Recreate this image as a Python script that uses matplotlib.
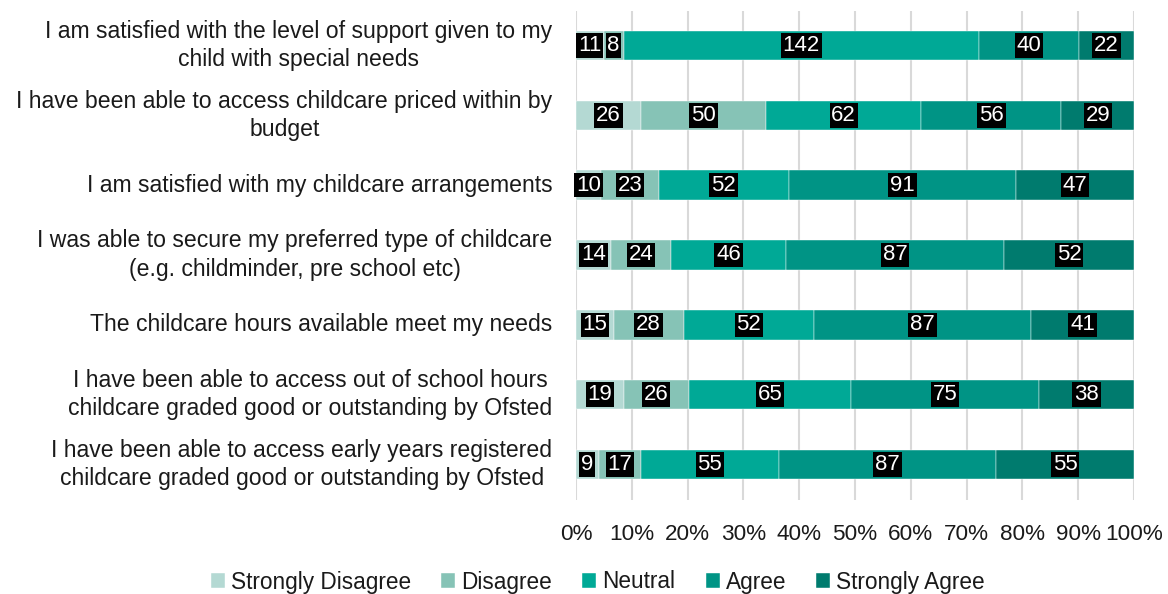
import matplotlib
matplotlib.use("Agg")
import matplotlib.pyplot as plt
import numpy as np

plt.rcParams['font.family'] = ['Liberation Sans', 'DejaVu Sans']

statements = [
    "I am satisfied with the level of support given to my\nchild with special needs",
    "I have been able to access childcare priced within by\nbudget",
    "I am satisfied with my childcare arrangements",
    "I was able to secure my preferred type of childcare\n(e.g. childminder, pre school etc)",
    "The childcare hours available meet my needs",
    "I have been able to access out of school hours\nchildcare graded good or outstanding by Ofsted",
    "I have been able to access early years registered\nchildcare graded good or outstanding by Ofsted",
]
responses = ["Strongly Disagree", "Disagree", "Neutral", "Agree", "Strongly Agree"]

strongly_disagree = [11, 26, 10, 14, 15, 19, 9]
disagree = [8, 50, 23, 24, 28, 26, 17]
neutral = [142, 62, 52, 46, 52, 65, 55]
agree = [40, 56, 91, 87, 87, 75, 87]
strongly_agree = [22, 29, 47, 52, 41, 38, 55]

colors = ['#b4d9d3', '#86c3b6', '#00a996', '#009485', '#007b6e']

counts = np.array([strongly_disagree, disagree, neutral, agree, strongly_agree], dtype=float)
totals = counts.sum(axis=0)
shares = counts / totals

fig = plt.figure(figsize=(11.68, 5.94), dpi=100)
ax = fig.add_axes([576 / 1168, 1 - 499.5 / 594, 558 / 1168, 489 / 594])

y = np.arange(len(statements))
left = np.zeros(len(statements))
for i, (name, col) in enumerate(zip(responses, colors)):
    ax.barh(y, shares[i], left=left, height=0.42, color=col,
            edgecolor='white', linewidth=0.3, label=name, zorder=2)
    for j in range(len(statements)):
        cx = left[j] + shares[i][j] / 2
        ax.text(cx, y[j], f"{int(counts[i][j])}", ha='center', va='center',
                color='white', fontsize=16, zorder=4,
                bbox=dict(boxstyle='square,pad=0.08', facecolor='black',
                          edgecolor='none'))
    left += shares[i]

ax.set_xlim(0, 1)
ax.set_ylim(len(statements) - 0.5, -0.5)
ax.set_xticks(np.linspace(0, 1, 11))
ax.set_xticklabels([f"{int(v)}%" for v in np.linspace(0, 100, 11)], fontsize=16.2,
                   color='#1a1a1a')
ax.set_yticks(y)
ax.set_yticklabels(statements, fontsize=16.6, multialignment='center',
                   color='#1a1a1a', linespacing=1.3, va='center')
ax.tick_params(axis='both', length=0)
ax.tick_params(axis='y', pad=17)
ax.tick_params(axis='x', pad=18)
ax.grid(axis='x', color='#d9d9d9', linewidth=1.5, zorder=0)
ax.set_axisbelow(True)
for s in ax.spines.values():
    s.set_visible(False)

handles, labels = ax.get_legend_handles_labels()
leg = fig.legend(handles, labels, loc='center', bbox_to_anchor=(598 / 1168, 1 - 582 / 594),
                 ncol=5, frameon=False, fontsize=16.3, handlelength=0.62,
                 handleheight=0.62, handletextpad=0.27, columnspacing=1.33,
                 borderaxespad=0, borderpad=0)
for t in leg.get_texts():
    t.set_color('#1a1a1a')

fig.savefig("out.png", dpi=100)
